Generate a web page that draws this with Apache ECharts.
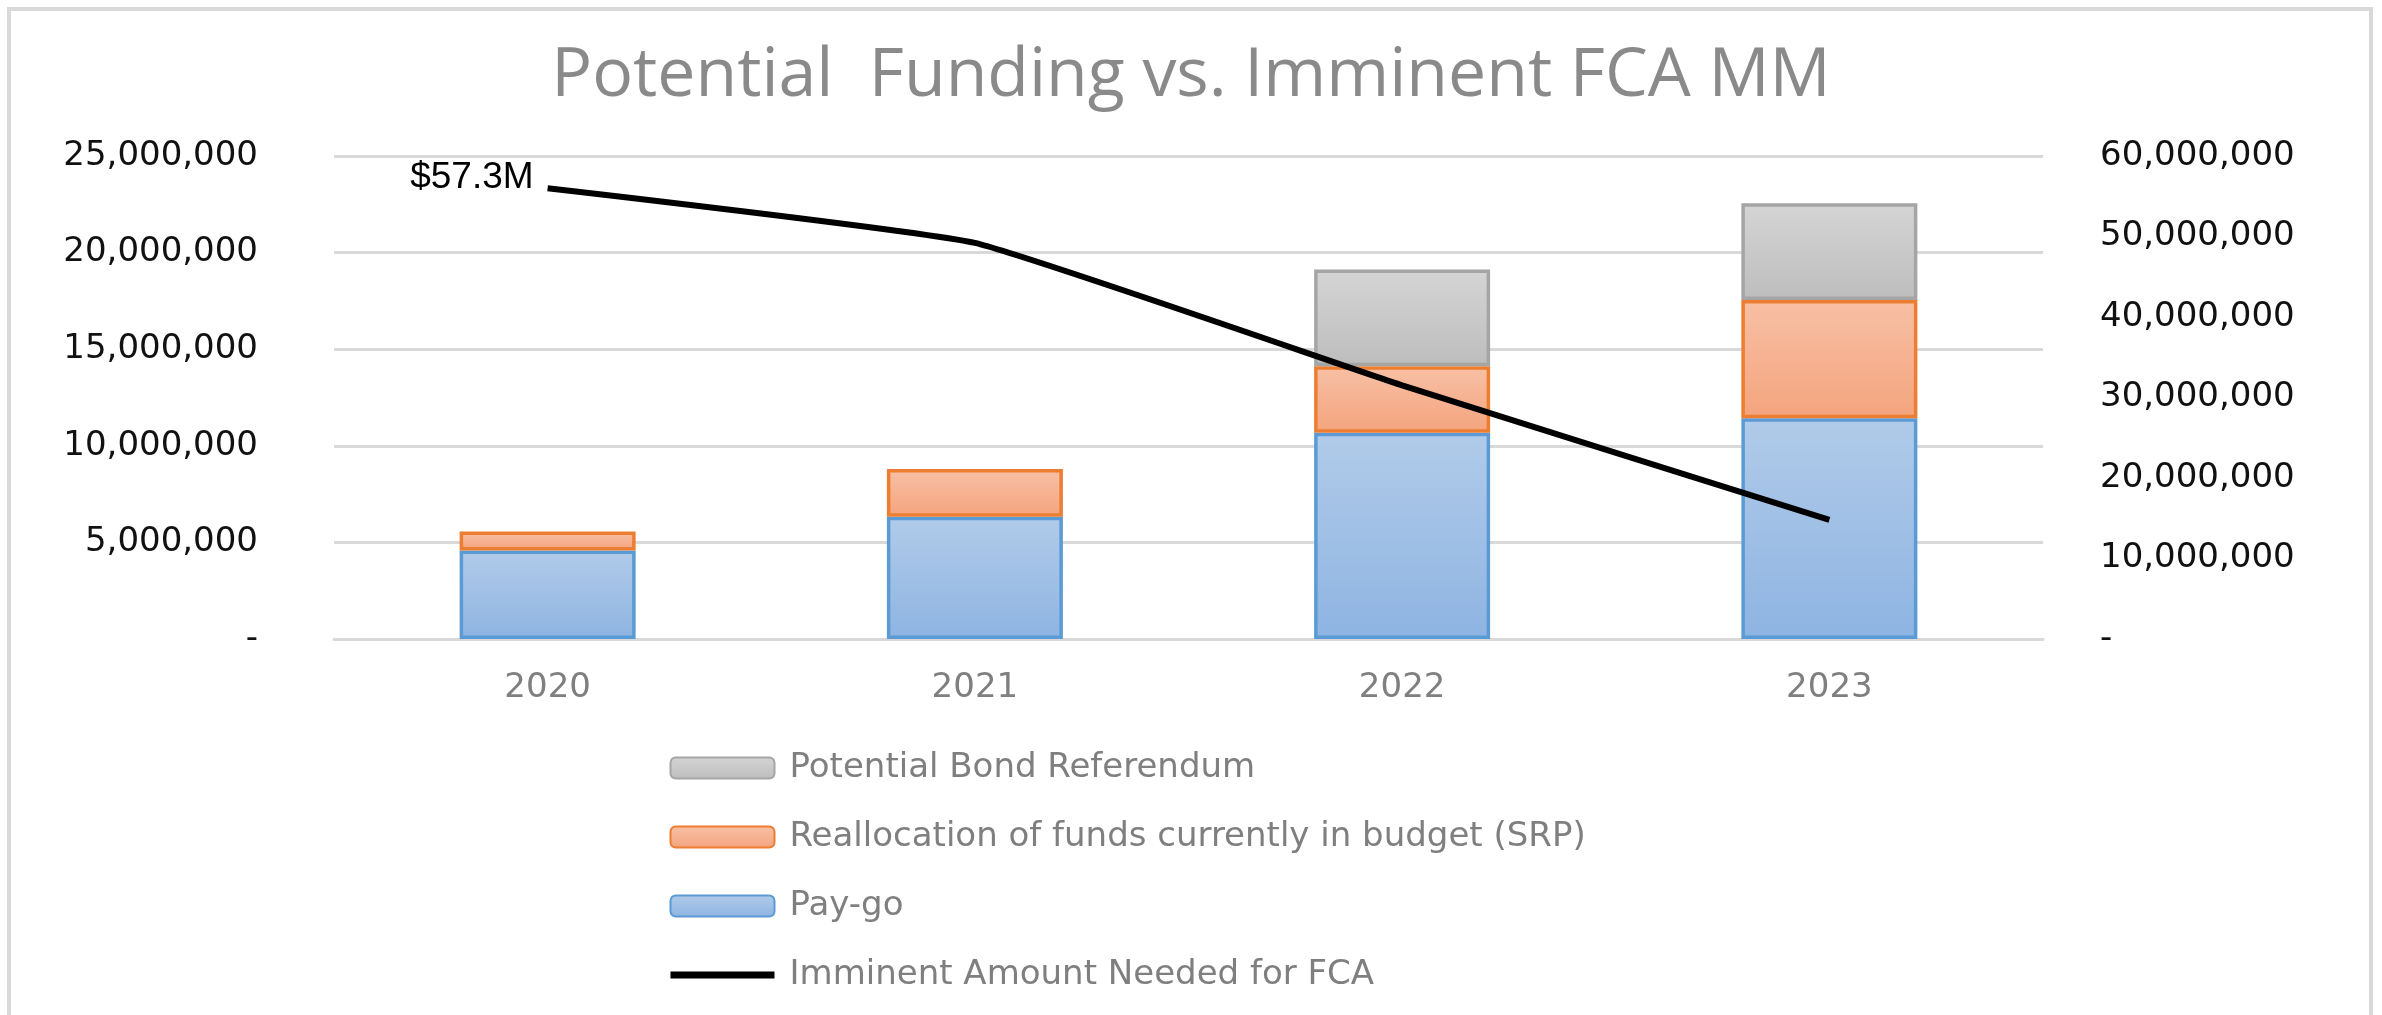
<!DOCTYPE html>
<html>
<head>
<meta charset="utf-8">
<script src="https://cdn.jsdelivr.net/npm/echarts@6/dist/echarts.min.js"></script>
<style>
html, body { margin: 0; padding: 0; background: #fff; }
#chart { width: 2382px; height: 1015px; }
</style>
</head>
<body>
<div id="chart"></div>
<script>
var years = ['2020', '2021', '2022', '2023'];
var payGo = [4580000, 6330000, 10670000, 11430000];
var realloc = [990000, 2470000, 3450000, 6120000];
var bond = [null, null, 5000000, 5000000];
var imminent = [56000000, 49200000, 31500000, 14800000];
var firstPointLabel = '$57.3M';

var names = ['Potential Bond Referendum', 'Reallocation of funds currently in budget (SRP)', 'Pay-go', 'Imminent Amount Needed for FCA'];

function grad(top, bottom) {
    return new echarts.graphic.LinearGradient(0, 0, 0, 1, [
        {offset: 0, color: top},
        {offset: 1, color: bottom}
    ]);
}

function moneyFmt(v) {
    if (v === 0) return '-';
    return v.toString().replace(/\B(?=(\d{3})+(?!\d))/g, ',');
}

var labelFont = 'DejaVu Sans';
var chart = echarts.init(document.getElementById('chart'));

var option = {
    backgroundColor: '#fff',
    animation: false,
    title: {
        text: 'Potential  Funding vs. Imminent FCA MM',
        left: 'center',
        top: 38,
        textStyle: {fontFamily: 'Open Sans', fontSize: 68, fontWeight: 'normal', color: '#8a8a8a'}
    },
    graphic: [{
        type: 'rect',
        shape: {x: 9, y: 9, width: 2362, height: 1100},
        style: {fill: 'none', stroke: '#d9d9d9', lineWidth: 4},
        silent: true
    }],
    legend: {
        orient: 'vertical',
        left: 662,
        top: 746,
        itemWidth: 104,
        itemHeight: 21,
        itemGap: 35,
        data: [names[0], names[1], names[2], {
            name: names[3],
            itemStyle: {color: 'rgba(0,0,0,0)', borderWidth: 0},
            lineStyle: {color: '#000', width: 7}
        }],
        textStyle: {fontFamily: labelFont, fontSize: 34, color: '#7f7f7f', padding: [0, 0, 0, 10]}
    },
    grid: {left: 334, right: 339, top: 156, bottom: 376},
    xAxis: {
        type: 'category',
        data: years,
        axisLine: {lineStyle: {color: '#d9d9d9', width: 3}},
        axisTick: {show: false},
        axisLabel: {fontFamily: labelFont, fontSize: 34, color: '#7f7f7f', margin: 32}
    },
    yAxis: [{
        type: 'value',
        min: 0, max: 25000000, interval: 5000000,
        axisLine: {show: false},
        axisTick: {show: false},
        splitLine: {lineStyle: {color: '#d9d9d9', width: 3}},
        axisLabel: {fontFamily: labelFont, fontSize: 34, color: '#111', margin: 76, formatter: moneyFmt}
    }, {
        type: 'value',
        min: 0, max: 60000000, interval: 10000000,
        axisLine: {show: false},
        axisTick: {show: false},
        splitLine: {show: false},
        axisLabel: {fontFamily: labelFont, fontSize: 34, color: '#111', margin: 57, formatter: moneyFmt}
    }],
    series: [{
        name: names[2],
        type: 'bar',
        stack: 'funds',
        barWidth: 176,
        data: payGo,
        itemStyle: {color: grad('#b1cbe9', '#8eb4e2'), borderColor: '#5b9bd5', borderWidth: 3.5}
    }, {
        name: names[1],
        type: 'bar',
        stack: 'funds',
        data: realloc,
        itemStyle: {color: grad('#f8c0a5', '#f4a47e'), borderColor: '#ed7d31', borderWidth: 3.5}
    }, {
        name: names[0],
        type: 'bar',
        stack: 'funds',
        data: bond,
        itemStyle: {color: grad('#d5d5d5', '#bdbdbd'), borderColor: '#a5a5a5', borderWidth: 3.5}
    }, {
        name: names[3],
        type: 'line',
        yAxisIndex: 1,
        z: 5,
        symbol: 'none',
        smooth: 0.12,
        lineStyle: {color: '#000', width: 6},
        itemStyle: {color: '#000'},
        data: imminent,
        markPoint: {
            symbol: 'circle',
            symbolSize: 0,
            data: [{coord: [years[0], imminent[0]], value: firstPointLabel}],
            label: {
                show: true, position: 'left', distance: 14, offset: [0, -10],
                formatter: firstPointLabel,
                fontFamily: 'Liberation Sans', fontSize: 37, color: '#000'
            }
        }
    }]
};
chart.setOption(option);
</script>
</body>
</html>
